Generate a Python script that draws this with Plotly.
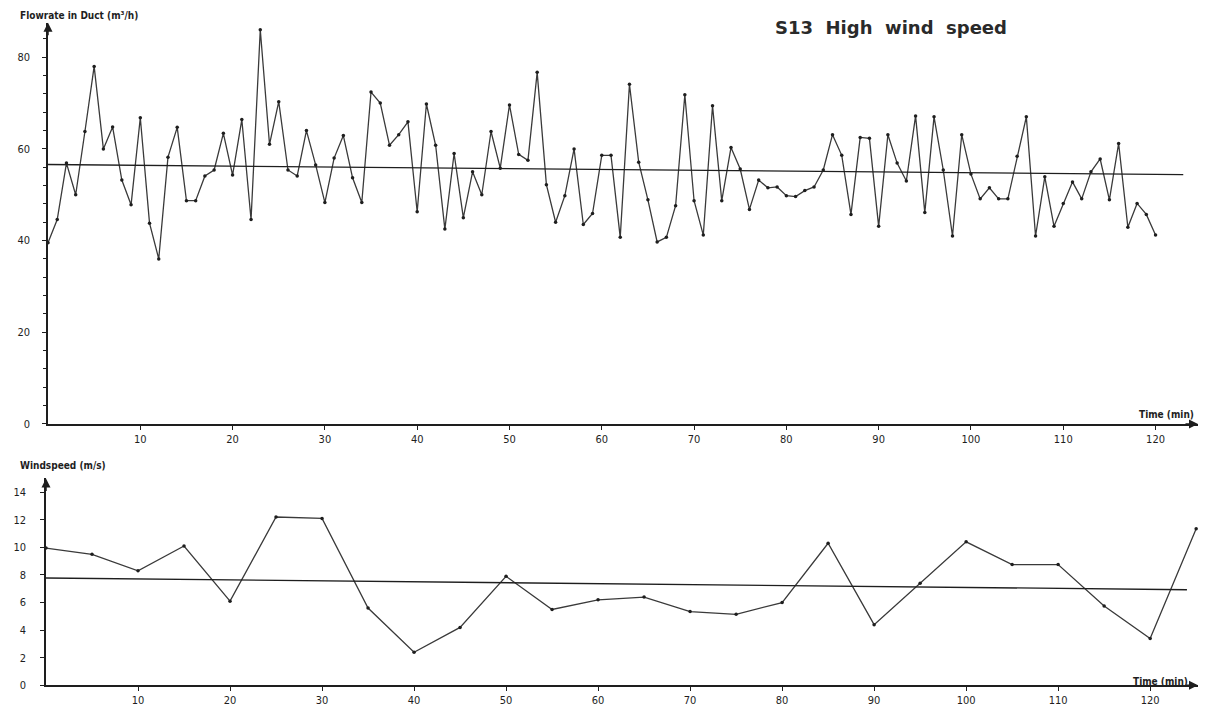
import plotly.graph_objects as go

# ---------------- data ----------------
time_flow = list(range(0, 121))
flowrate = [39.5, 44.6, 56.9, 50.0, 63.8, 78.0, 60.0, 64.8, 53.2, 47.8,
            66.8, 43.8, 36.0, 58.2, 64.7, 48.7, 48.7, 54.1, 55.4, 63.4,
            54.3, 66.4, 44.6, 86.0, 61.0, 70.3, 55.4, 54.1, 64.0, 56.5,
            48.3, 58.0, 62.9, 53.7, 48.3, 72.4, 70.0, 60.8, 63.1, 65.9,
            46.3, 69.8, 60.8, 42.5, 59.0, 45.0, 55.0, 50.0, 63.8, 55.8,
            69.6, 58.8, 57.5, 76.7, 52.2, 44.0, 49.8, 60.0, 43.5, 45.9,
            58.6, 58.6, 40.7, 74.1, 57.1, 48.9, 39.7, 40.7, 47.6, 71.8,
            48.7, 41.2, 69.4, 48.7, 60.3, 55.6, 46.8, 53.2, 51.5, 51.7,
            49.8, 49.6, 50.9, 51.7, 55.4, 63.1, 58.6, 45.7, 62.5, 62.3,
            43.1, 63.1, 56.9, 53.0, 67.2, 46.1, 67.0, 55.4, 41.0, 63.1,
            54.5, 49.1, 51.5, 49.1, 49.1, 58.4, 67.0, 41.0, 53.9, 43.1,
            48.1, 52.8, 49.1, 55.0, 57.8, 48.9, 61.2, 42.9, 48.1, 45.7,
            41.2]
flow_trend_t = [0, 123]
flow_trend_v = [56.6, 54.4]

time_wind = [0, 5, 10, 15, 20, 25, 30, 35, 40, 45, 50, 55, 60, 65, 70, 75,
             80, 85, 90, 95, 100, 105, 110, 115, 120, 125]
windspeed = [9.95, 9.5, 8.3, 10.1, 6.1, 12.2, 12.1, 5.6, 2.4, 4.2, 7.9, 5.5,
             6.2, 6.4, 5.35, 5.15, 6.0, 10.3, 4.4, 7.4, 10.4, 8.75, 8.75, 5.75,
             3.4, 11.35]
wind_trend_t = [0, 124]
wind_trend_v = [7.78, 6.93]

x_ticks = [10, 20, 30, 40, 50, 60, 70, 80, 90, 100, 110, 120]
flow_ticks = [0, 20, 40, 60, 80]
wind_ticks = [0, 2, 4, 6, 8, 10, 12, 14]

# ---------------- figure ----------------
INK = "#1e1e1e"
LINE = "#3a3a3a"
FONT = "DejaVu Sans Condensed"

fig = go.Figure()

fig.add_trace(go.Scatter(x=time_flow, y=flowrate, mode="lines+markers",
                         line=dict(color=LINE, width=1.3),
                         marker=dict(color=INK, size=3.5),
                         xaxis="x", yaxis="y", showlegend=False))
fig.add_trace(go.Scatter(x=flow_trend_t, y=flow_trend_v, mode="lines",
                         line=dict(color=INK, width=1.3),
                         xaxis="x", yaxis="y", showlegend=False))
fig.add_trace(go.Scatter(x=time_wind, y=windspeed, mode="lines+markers",
                         line=dict(color=LINE, width=1.3),
                         marker=dict(color=INK, size=3.5),
                         xaxis="x2", yaxis="y2", showlegend=False))
fig.add_trace(go.Scatter(x=wind_trend_t, y=wind_trend_v, mode="lines",
                         line=dict(color=INK, width=1.3),
                         xaxis="x2", yaxis="y2", showlegend=False))

W, H = 1213, 720
dom_x = [40 / W, 1190 / W]
tickfont = dict(family=FONT, size=11, color=INK)

axis_common = dict(showgrid=False, zeroline=False, showline=True,
                   linecolor=INK, linewidth=1.5, ticks="outside",
                   tickcolor=INK, ticklen=4, tickwidth=1.2, tickfont=tickfont)

fig.update_layout(
    width=W, height=H,
    paper_bgcolor="white", plot_bgcolor="white",
    margin=dict(l=0, r=0, t=0, b=0),
    xaxis=dict(domain=dom_x, range=[0, 124.6], anchor="y",
               tickvals=x_ticks, **axis_common),
    yaxis=dict(domain=[1 - 420 / H, 1 - 15 / H], range=[0, 87.5], anchor="x",
               tickvals=flow_ticks, ticklabelstandoff=10,
               minor=dict(dtick=4, ticklen=3, tickcolor=INK, ticks="outside"),
               **axis_common),
    xaxis2=dict(domain=[38 / W, 1190 / W], range=[0, 125.2], anchor="y2",
                tickvals=x_ticks, **axis_common),
    yaxis2=dict(domain=[1 - 684 / H, 1 - 475 / H], range=[0, 15], anchor="x2",
                tickvals=wind_ticks, ticklabelstandoff=12, **axis_common),
)

label_font = dict(family=FONT, size=10, color=INK)
ann = [
    dict(text="<b>Flowrate in Duct (m³/h)</b>", xref="paper", yref="paper",
         x=10 / W, y=1 - 8 / H, xanchor="left", yanchor="middle",
         showarrow=False, font=label_font),
    dict(text="<b>Time (min)</b>", xref="paper", yref="paper",
         x=1188 / W, y=1 - 410 / H, xanchor="right", yanchor="middle",
         showarrow=False, font=label_font),
    dict(text="<b>Windspeed (m/s)</b>", xref="paper", yref="paper",
         x=10 / W, y=1 - 462 / H, xanchor="left", yanchor="middle",
         showarrow=False, font=label_font),
    dict(text="<b>Time (min)</b>", xref="paper", yref="paper",
         x=1182 / W, y=1 - 680 / H, xanchor="right", yanchor="middle",
         showarrow=False, font=label_font),
    dict(text="<b>S13  High  wind  speed</b>", xref="paper", yref="paper",
         x=765 / W, y=1 - 20 / H, xanchor="left", yanchor="middle",
         showarrow=False,
         font=dict(family="DejaVu Sans", size=18, color="#2a2a2a")),
    # axis arrows
    dict(x=124.6, y=0, xref="x", yref="y", ax=-14, ay=0, text="",
         showarrow=True, arrowhead=2, arrowsize=1.2, arrowwidth=1.5,
         arrowcolor=INK),
    dict(x=0, y=87.5, xref="x", yref="y", ax=0, ay=14, text="",
         showarrow=True, arrowhead=2, arrowsize=1.2, arrowwidth=1.5,
         arrowcolor=INK),
    dict(x=125.2, y=0, xref="x2", yref="y2", ax=-14, ay=0, text="",
         showarrow=True, arrowhead=2, arrowsize=1.2, arrowwidth=1.5,
         arrowcolor=INK),
    dict(x=0, y=15, xref="x2", yref="y2", ax=0, ay=14, text="",
         showarrow=True, arrowhead=2, arrowsize=1.2, arrowwidth=1.5,
         arrowcolor=INK),
]
fig.update_layout(annotations=ann)

fig.write_html("out.html")
